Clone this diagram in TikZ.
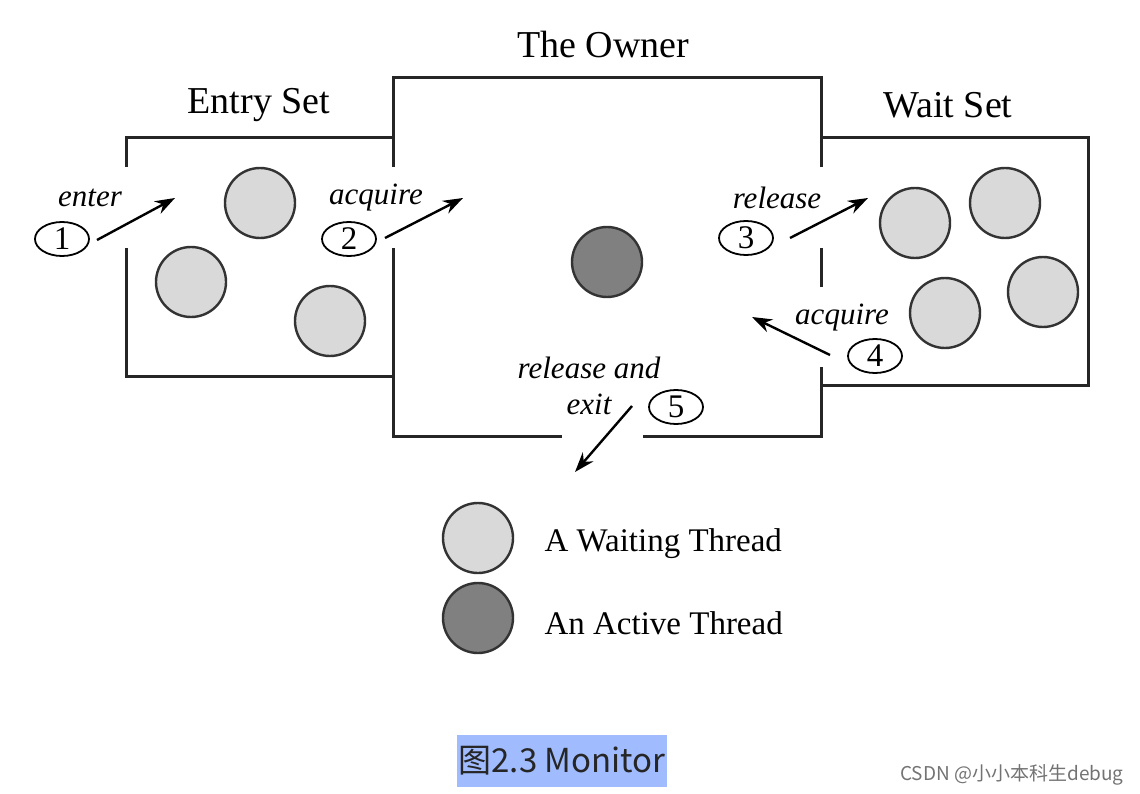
\documentclass[tikz,border=0pt]{standalone}
\usepackage{fontspec}
\setmainfont{Liberation Serif}
\newfontfamily\cjkfont{Noto Sans CJK SC}
\usetikzlibrary{shapes.geometric,arrows.meta}
\definecolor{capblue}{RGB}{160,188,255}
\tikzset{
  wall/.style={line width=3pt,black!85},
  waiting/.style={circle,draw=black!80,line width=2.4pt,fill=black!15,minimum size=70pt,inner sep=0pt},
  active/.style={waiting,fill=black!50},
  numtag/.style={ellipse,draw,line width=1.8pt,minimum width=54pt,minimum height=34pt,inner sep=0pt,font=\fontsize{33}{33}\selectfont},
  lbl/.style={font=\fontsize{31}{36}\selectfont\itshape,align=center},
  settitle/.style={font=\fontsize{38}{38}\selectfont},
  move/.style={-{Stealth[length=20pt,width=14pt]},line width=2.4pt}
}
\begin{document}
\begin{tikzpicture}[x=1pt,y=-1pt]
  \useasboundingbox (0,0) rectangle (1140,794);
  % walls of the three sets
  \draw[wall] (126,167) -- (126,138) -- (393,138);
  \draw[wall] (393,167) -- (393,78) -- (821,78) -- (821,167);
  \draw[wall] (821,138) -- (1088,138) -- (1088,385) -- (821,385);
  \draw[wall] (821,367) -- (821,436) -- (643,436);
  \draw[wall] (562,436) -- (393,436) -- (393,248);
  \draw[wall] (393,376) -- (126,376) -- (126,248);
  \draw[wall] (821,248) -- (821,287);
  % titles
  \node[settitle] (entryTitle) at (259,105) {Entry Set};
  \node[settitle] (ownerTitle) at (603,45) {The Owner};
  \node[settitle] (waitTitle) at (948,105) {Wait Set};
  % threads
  \node[waiting] (e1) at (260,203) {};
  \node[waiting] (e2) at (191,282) {};
  \node[waiting] (e3) at (330,321) {};
  \node[active] (own) at (607,262) {};
  \node[waiting] (w1) at (915,223) {};
  \node[waiting] (w2) at (1005,203) {};
  \node[waiting] (w3) at (945,313) {};
  \node[waiting] (w4) at (1043,292) {};
  % numbered steps
  \node[numtag] (tag1) at (62,239) {1};
  \node[numtag] (tag2) at (349,239) {2};
  \node[numtag] (tag3) at (746,238) {3};
  \node[numtag] (tag4) at (875,356) {4};
  \node[numtag] (tag5) at (676,407) {5};
  \node[lbl] (lbl1) at (90,198) {enter};
  \node[lbl] (lbl2) at (376,198) {acquire};
  \node[lbl] (lbl3) at (777,198) {release};
  \node[lbl] (lbl4) at (842,318) {acquire};
  \node[lbl] (lbl5) at (589,386) {release and\\exit};
  % arrows
  \coordinate (s1) at (97,240);  \coordinate (t1) at (175,198);
  \coordinate (s2) at (385,238); \coordinate (t2) at (463,198);
  \coordinate (s3) at (790,238); \coordinate (t3) at (868,198);
  \coordinate (s4) at (830,355); \coordinate (t4) at (752,317);
  \coordinate (s5) at (632,406); \coordinate (t5) at (575,472);
  \foreach \i in {1,...,5}
    \draw[move] (s\i) -- (t\i);
  % legend
  \node[waiting] (keyWait) at (478,538) {};
  \node[active] (keyAct) at (478,618) {};
  \node[anchor=west,font=\fontsize{33}{33}\selectfont] (keyWaitText) at (541,544) {A Waiting Thread};
  \node[anchor=west,font=\fontsize{33}{33}\selectfont] (keyActText) at (541,623) {An Active Thread};
  % caption and mark
  \node[fill=capblue,inner xsep=2pt,minimum height=52pt,font=\cjkfont\fontsize{33}{33}\selectfont,text=black!85] (caption) at (562,761) {图2.3 Monitor};
  \node[font=\cjkfont\fontsize{19}{19}\selectfont,text=black!55] (mark) at (1012,775) {CSDN @小小本科生debug};
\end{tikzpicture}
\end{document}
